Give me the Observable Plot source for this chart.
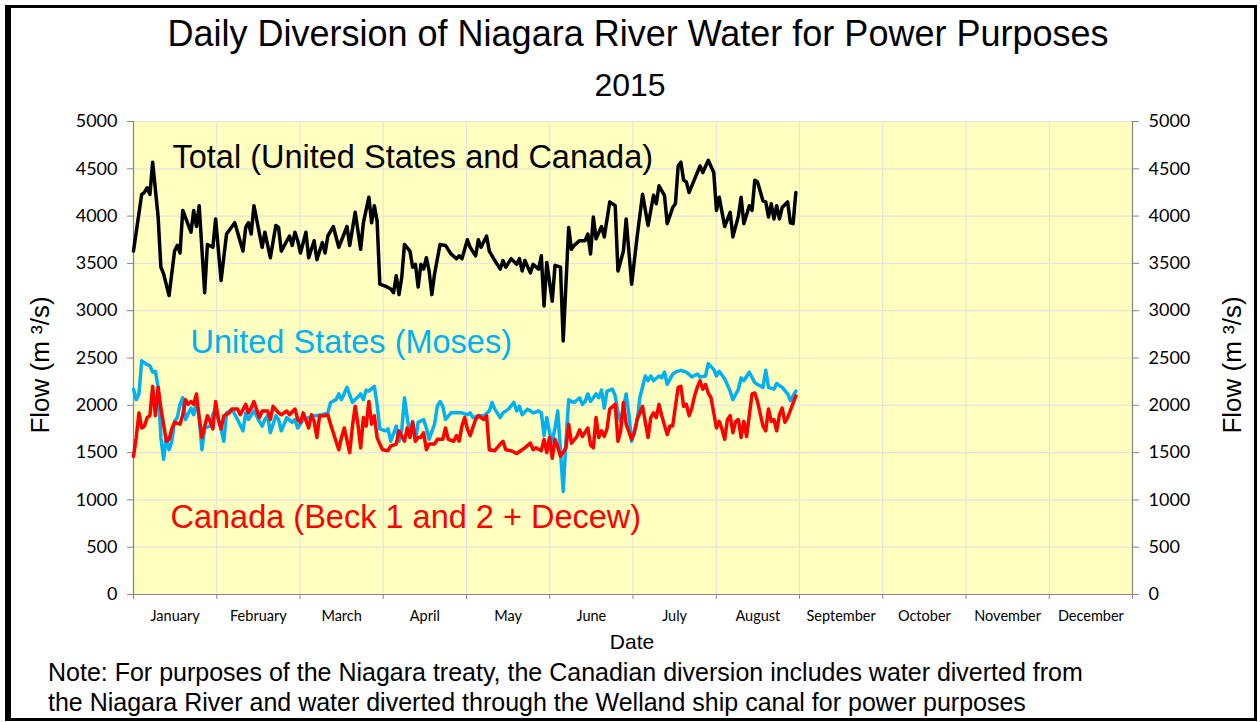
<!DOCTYPE html>
<html>
<head>
<meta charset="utf-8">
<script src="https://cdn.jsdelivr.net/npm/d3@7"></script>
<script src="https://cdn.jsdelivr.net/npm/@observablehq/plot@0.6"></script>
<style>
  html, body { margin: 0; padding: 0; background: #fff; }
  #page { position: relative; width: 1260px; height: 722px; overflow: hidden; font-family: "Liberation Sans", Arial, sans-serif; color: #000; }
  #border { position: absolute; left: 5px; top: 5px; width: 1252px; height: 716px; box-sizing: border-box; border: 3px solid #000; border-left-width: 6px; pointer-events: none; }
  .abs { position: absolute; white-space: nowrap; }
  #title { left: 8px; width: 1260px; top: 16px; text-align: center; font-size: 36px; line-height: 36px; }
  #subtitle { left: 0; width: 1260px; top: 69px; text-align: center; font-size: 32px; line-height: 32px; }
  .ylab { font-size: 26px; line-height: 26px; transform: translate(-50%, -50%) rotate(-90deg); }
  #date { left: 632px; top: 631px; transform: translateX(-50%); font-size: 21px; line-height: 21px; }
  #note { left: 48px; top: 657px; font-size: 25px; line-height: 30px; }
  #chart { position: absolute; left: 0; top: 100px; }
</style>
</head>
<body>
<div id="page">
  <div id="chart"></div>
  <div class="abs" id="title">Daily Diversion of Niagara River Water for Power Purposes</div>
  <div class="abs" id="subtitle">2015</div>
  <div class="abs ylab" style="left:40px; top:365px;">Flow (m ³/s)</div>
  <div class="abs ylab" style="left:1232px; top:365px;">Flow (m ³/s)</div>
  <div class="abs" id="date">Date</div>
  <div class="abs" id="note">Note: For purposes of the Niagara treaty, the Canadian diversion includes water diverted from<br>the Niagara River and water diverted through the Welland ship canal for power purposes</div>
  <div id="border"></div>
</div>
<script>
// ---------- Data (day of year 2015, flow in m3/s) ----------
const months = ["January","February","March","April","May","June","July","August","September","October","November","December"];
const yTickValues = [0, 500, 1000, 1500, 2000, 2500, 3000, 3500, 4000, 4500, 5000];
const seriesLabels = ["Total (United States and Canada)", "United States (Moses)", "Canada (Beck 1 and 2 + Decew)"];

const totalDay = [1,4,5,6,7,8,10,11,12,14,16,17,18,19,22,23,24,25,27,28,30,31,33,35,38,41,42,43,44,45,48,49,51,53,54,55,58,59,60,61,62,64,65,67,68,70,71,72,74,76,79,80,82,84,85,87,88,89,90,91,92,93,95,96,97,98,99,100,102,103,104,105,106,107,108,109,110,111,113,115,117,119,120,121,123,124,126,127,128,130,131,133,135,136,137,139,141,142,143,144,146,147,149,150,151,152,154,155,157,158,160,161,162,164,166,167,168,169,170,172,173,175,177,178,180,181,183,185,187,189,191,192,193,195,196,198,199,200,201,202,203,204,206,208,209,211,213,214,215,217,219,220,222,223,224,226,227,228,229,231,232,233,234,235,236,237,238,240,241,242,243];
const totalFlow = [3630,4230,4250,4300,4230,4570,3990,3460,3390,3160,3630,3690,3610,4060,3830,4060,3890,4110,3190,3700,3670,3970,3320,3810,3930,3630,3880,3930,3810,4110,3670,3830,3560,3900,3880,3630,3790,3690,3830,3740,3610,3830,3560,3740,3540,3720,3610,3790,3890,3670,3890,3690,4040,3650,3930,4200,3930,4110,3950,3280,3270,3260,3230,3190,3370,3170,3350,3700,3630,3460,3490,3250,3490,3440,3560,3420,3170,3390,3700,3690,3600,3550,3580,3550,3750,3670,3580,3750,3670,3790,3630,3530,3440,3530,3460,3550,3490,3550,3420,3530,3400,3490,3440,3580,3050,3510,3100,3480,3460,2680,3880,3650,3690,3740,3740,3810,3600,3990,3760,3890,3780,4150,4110,3420,3630,3970,3280,3780,4230,3900,4220,4130,4320,4220,3920,4090,4130,4530,4570,4380,4360,4250,4390,4530,4460,4590,4460,4060,4200,3890,4040,3780,4000,4200,3920,4110,4060,4380,4360,4160,4150,3990,4130,3970,4110,3970,4090,4150,3930,3920,4250];

const usDay = [1,2,3,4,6,7,8,9,10,11,12,13,14,15,16,17,18,19,20,22,23,24,25,26,27,29,30,31,33,34,35,37,39,41,42,43,45,47,48,49,50,51,53,54,55,57,59,60,61,63,65,67,70,72,73,75,76,77,79,81,82,84,85,86,87,89,90,91,93,94,95,97,98,99,100,101,102,103,104,105,107,108,109,111,112,113,114,115,117,119,121,123,124,125,127,129,131,132,133,135,136,138,140,141,142,143,145,147,149,150,151,152,153,154,155,156,157,158,159,160,161,162,164,165,166,167,168,170,171,172,173,174,176,177,178,179,180,181,182,183,185,186,188,189,190,191,193,194,195,196,198,199,201,203,205,207,208,210,211,213,214,215,217,219,220,222,223,224,226,228,229,231,232,233,235,236,238,240,241,243];
const usFlow = [2170,2060,2120,2470,2430,2420,2350,2360,2190,1660,1430,1660,1530,1620,1830,1870,2010,2080,1850,1970,1900,2040,1870,1530,1760,1780,1900,1960,1750,1620,1920,1960,1850,1730,1920,1850,1940,1830,1780,1850,1890,1710,1890,1850,1730,1870,1820,1850,1760,1850,1870,1890,1900,1920,2030,2060,2120,2060,2190,2030,2060,2120,2060,2160,2150,2200,2010,1750,1730,1750,1620,1780,1620,1730,2080,1870,1680,1830,1620,1820,1850,1760,1640,1800,1990,2040,1990,1850,1920,1920,1920,1900,1920,1870,1890,1890,1940,2030,1960,1870,1920,1960,2030,1940,1990,1900,1960,1920,1940,1920,1680,1870,1710,1620,1760,1940,1520,1090,1620,2060,2040,2030,2080,2010,2040,2120,2040,2120,2080,2160,1970,2150,2170,2100,1920,1830,1970,2120,1900,1620,1830,2080,2310,2260,2310,2260,2310,2290,2350,2220,2330,2350,2370,2350,2300,2330,2300,2310,2440,2380,2310,2360,2280,2150,2060,2170,2290,2260,2350,2240,2220,2190,2370,2190,2170,2230,2190,2120,2050,2150];

const canadaDay = [1,2,3,4,5,6,7,8,9,10,11,13,14,15,16,18,19,20,21,22,23,24,25,26,28,29,30,31,32,33,34,36,37,39,40,42,43,44,45,47,48,50,51,52,54,55,57,58,60,61,62,63,65,66,67,68,69,71,72,73,74,76,77,78,80,81,82,83,84,85,86,87,88,89,90,91,92,94,95,97,98,100,101,102,103,104,105,106,107,108,109,111,112,114,115,116,118,119,120,121,122,123,124,126,127,129,130,131,133,135,136,137,139,141,143,144,146,147,148,150,151,152,153,154,155,156,157,159,160,161,163,164,165,167,168,169,170,171,172,173,174,175,177,178,179,180,181,183,184,185,187,188,189,190,191,192,193,194,196,197,198,200,201,202,203,204,205,206,207,208,209,210,211,212,214,215,216,217,218,219,220,221,222,223,224,225,227,228,229,231,232,233,234,235,236,237,238,239,240,243];
const canadaFlow = [1460,1660,1920,1760,1780,1870,1890,2200,1890,2190,1970,1620,1640,1750,1820,1800,1900,2060,2010,2040,2010,2120,1870,1660,1890,1830,1750,2040,1850,1750,1890,1920,1960,1960,1900,2010,1920,1970,2040,1870,1940,1940,1850,1990,1920,1900,1940,1900,1960,1850,1820,1920,1760,1900,1830,1660,1890,1890,1900,1800,1710,1530,1660,1760,1500,1780,1990,1800,1550,1870,1780,2040,1800,1890,1660,1590,1530,1520,1570,1590,1730,1620,1760,1660,1820,1620,1660,1660,1710,1530,1590,1590,1640,1640,1760,1640,1620,1680,1620,1780,1870,1750,1680,1850,1890,1850,1890,1530,1520,1590,1620,1530,1520,1490,1530,1550,1600,1530,1550,1520,1640,1500,1660,1440,1640,1560,1460,1550,1800,1600,1670,1740,1670,1760,1580,1550,1870,1660,1730,1670,1750,1960,2010,1620,1730,2030,1800,1640,1710,1850,1990,1820,1660,1870,1920,1870,2010,1890,1690,1780,1780,2190,2200,1990,2010,1890,1970,2100,2190,2260,2170,2220,2130,2080,1760,1830,1750,1640,1850,1890,1710,1830,1850,1660,1830,1670,2120,2130,2040,1780,1730,1960,1830,1850,1730,1900,1970,1820,1870,2100];

// ---------- Tables built from the arrays ----------
const rows = (days, flows) => days.map((d, i) => ({day: d, flow: flows[i]}));
const total = rows(totalDay, totalFlow);
const us = rows(usDay, usFlow);
const canada = rows(canadaDay, canadaFlow);

const monthLen = 365 / 12;
const monthBounds = d3.range(13).map(i => 1 + i * monthLen);
const monthMids = d3.range(12).map(i => 1 + (i + 0.5) * monthLen);
const monthName = d => months[Math.round((d - 1) / monthLen - 0.5)];

const gridColor = "#E4E4DC";
const axisColor = "#868686";
const labelFont = "'Liberation Sans', Arial, sans-serif";

const chart = Plot.plot({
  width: 1260,
  height: 560,
  marginTop: 21,
  marginBottom: 66,
  marginLeft: 133,
  marginRight: 128,
  style: {fontFamily: "Lato, sans-serif", fontSize: "18px", color: "#000", background: "transparent", overflow: "visible"},
  x: {domain: [1, 366], axis: null},
  y: {domain: [0, 5000], axis: null},
  marks: [
    Plot.frame({fill: "#FFFFC0", stroke: null}),
    Plot.gridY(yTickValues, {stroke: gridColor, strokeOpacity: 1, strokeWidth: 1.2}),
    Plot.gridX(monthBounds, {stroke: gridColor, strokeOpacity: 1, strokeWidth: 1.2}),
    Plot.ruleY([0], {stroke: axisColor, strokeWidth: 1.2}),
    Plot.ruleX([1, 366], {stroke: axisColor, strokeWidth: 1.2}),
    Plot.axisY(yTickValues, {anchor: "left", tickSize: 6, tickPadding: 10, tickFormat: d => String(d), stroke: axisColor, fontSize: 18, label: null}),
    Plot.axisY(yTickValues, {anchor: "right", tickSize: 6, tickPadding: 10, tickFormat: d => String(d), stroke: axisColor, fontSize: 18, label: null}),
    Plot.axisX(monthBounds, {anchor: "bottom", tickSize: 5, tickFormat: () => "", stroke: axisColor, label: null}),
    Plot.axisX(monthMids, {anchor: "bottom", tickSize: 0, tickPadding: 16, tickFormat: monthName, fontSize: 14.5, label: null}),
    Plot.line(us, {x: "day", y: "flow", stroke: "#00B0F0", strokeWidth: 3.5, strokeLinejoin: "round"}),
    Plot.line(canada, {x: "day", y: "flow", stroke: "#FF0000", strokeWidth: 3.5, strokeLinejoin: "round"}),
    Plot.line(total, {x: "day", y: "flow", stroke: "#000000", strokeWidth: 3.5, strokeLinejoin: "round"}),
    Plot.text([seriesLabels[0]], {frameAnchor: "top-left", dx: 39, dy: 36, textAnchor: "start", lineAnchor: "middle", fill: "#000000", fontSize: 32.5, fontFamily: labelFont}),
    Plot.text([seriesLabels[1]], {frameAnchor: "top-left", dx: 57, dy: 221, textAnchor: "start", lineAnchor: "middle", fill: "#00B0F0", fontSize: 32.5, fontFamily: labelFont}),
    Plot.text([seriesLabels[2]], {frameAnchor: "top-left", dx: 37, dy: 396, textAnchor: "start", lineAnchor: "middle", fill: "#FF0000", fontSize: 32.5, fontFamily: labelFont})
  ]
});
document.getElementById("chart").appendChild(chart);
</script>
</body>
</html>
